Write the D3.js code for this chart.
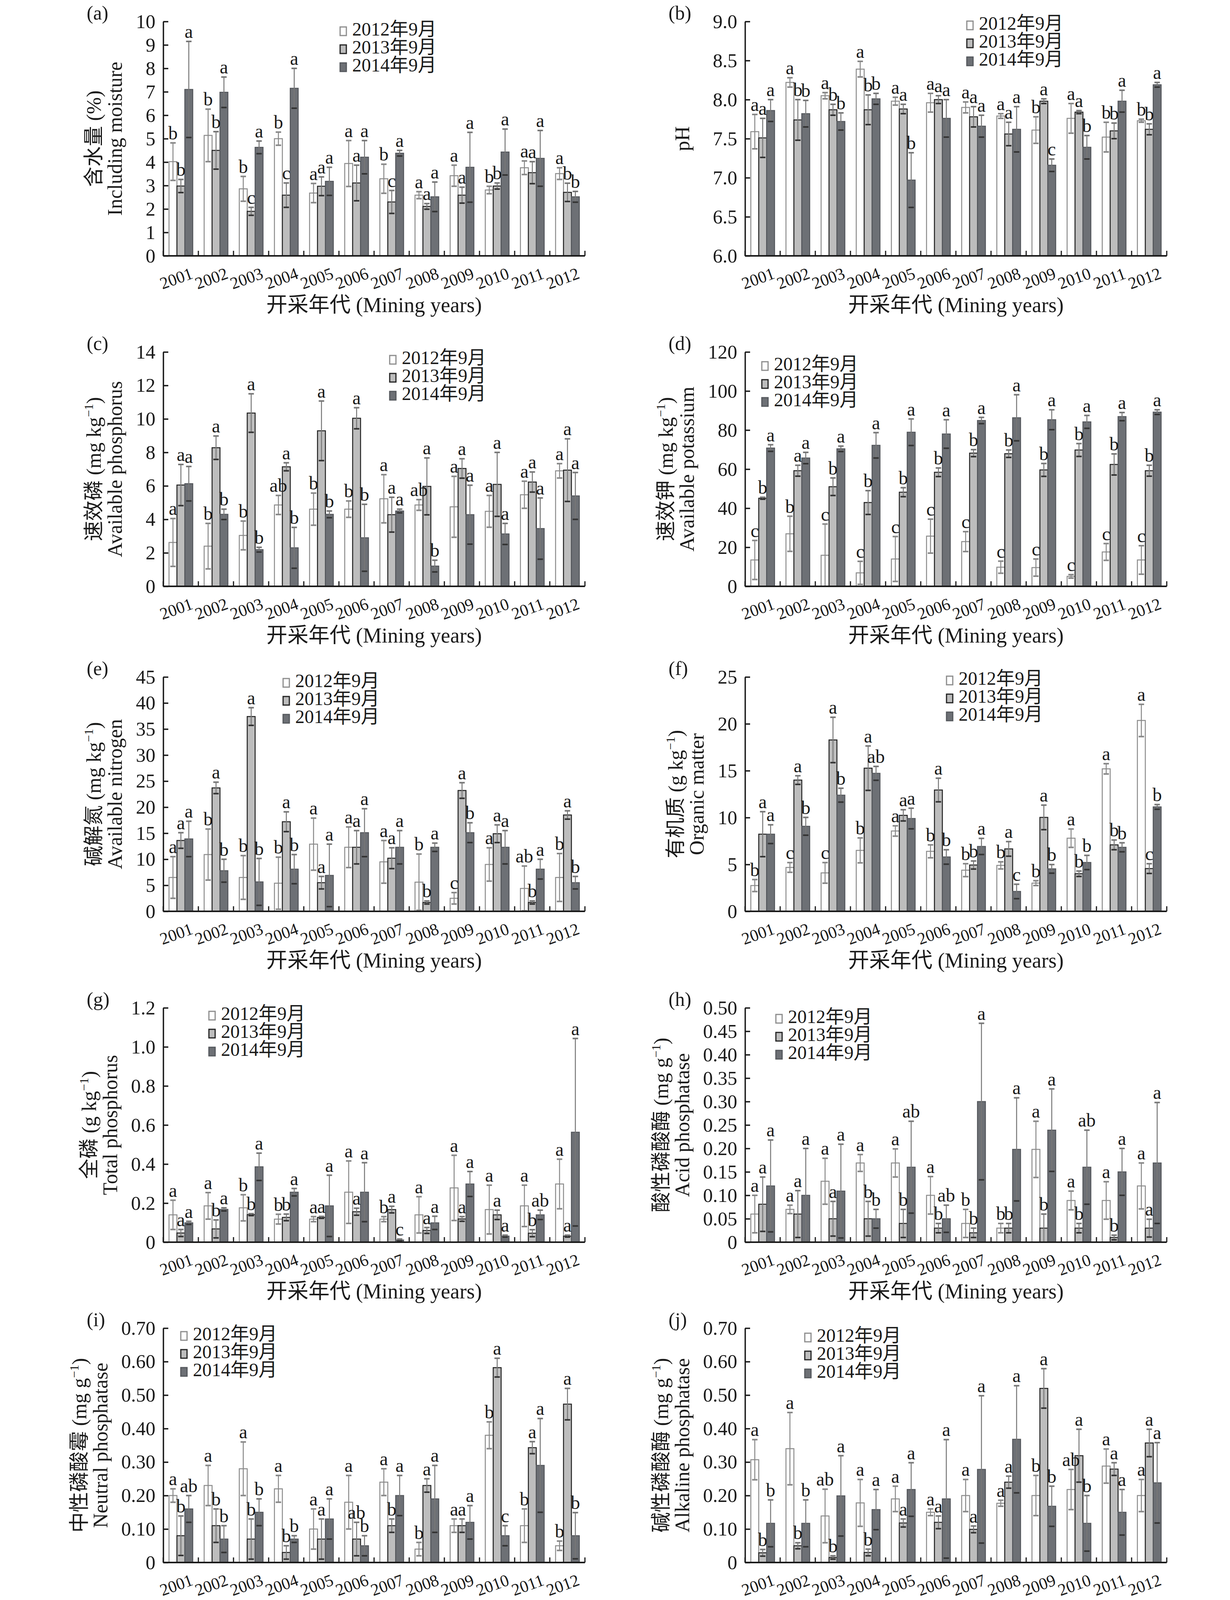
<!DOCTYPE html>
<html><head><meta charset="utf-8">
<script src="https://cdn.jsdelivr.net/npm/d3@7/dist/d3.min.js"></script>
<style>
body{margin:0;background:#fff;}
text{font-family:"Liberation Serif","Times New Roman","Noto Sans CJK SC",serif;fill:#1a1a1a;}
</style></head><body>
<svg id="chart" width="3150" height="4181"></svg>
<script>
const years = ["2001","2002","2003","2004","2005","2006","2007","2008","2009","2010","2011","2012"];
const seriesNames = ["2012年9月","2013年9月","2014年9月"];

// (a) moisture %
const moistMean = [
  [4.02,5.14,2.86,5.00,2.68,3.94,3.29,2.59,3.42,2.81,3.76,3.51],
  [2.98,4.50,1.90,2.59,2.97,3.11,2.30,2.11,2.59,2.98,3.55,2.71],
  [7.10,6.98,4.63,7.15,3.18,4.21,4.38,2.52,3.78,4.43,4.16,2.52]];
const moistErr = [
  [0.80,1.12,0.53,0.28,0.41,0.98,0.62,0.15,0.45,0.16,0.29,0.25],
  [0.28,0.80,0.17,0.52,0.40,0.76,0.49,0.12,0.34,0.13,0.47,0.39],
  [2.05,0.65,0.27,0.85,0.60,0.71,0.12,0.63,1.49,0.98,1.19,0.23]];
const moistLetters = [
  ["b","b","b","b","a","a","b","a","a","b","a","a"],
  ["b","b","c","c","a","a","c","a","a","b","a","b"],
  ["a","a","a","a","a","a","a","a","a","a","a","b"]];
const moistTicks = [0,1,2,3,4,5,6,7,8,9,10];
const moistTickLabels = ["0","1","2","3","4","5","6","7","8","9","10"];

// (b) pH
const phMean = [
  [7.59,8.22,8.05,8.39,7.98,7.96,7.90,7.79,7.61,7.76,7.52,7.73],
  [7.51,7.74,7.87,7.87,7.88,8.00,7.78,7.56,7.98,7.84,7.60,7.62],
  [7.86,7.82,7.72,8.01,6.97,7.76,7.66,7.62,7.16,7.39,7.98,8.19]];
const phErr = [
  [0.22,0.06,0.04,0.10,0.05,0.12,0.07,0.03,0.17,0.19,0.19,0.02],
  [0.25,0.26,0.07,0.19,0.06,0.05,0.13,0.15,0.03,0.02,0.10,0.07],
  [0.14,0.17,0.11,0.07,0.35,0.24,0.14,0.29,0.08,0.15,0.14,0.03]];
const phLetters = [
  ["a","a","a","a","a","a","a","a","b","a","b","b"],
  ["a","b","b","b","a","a","a","a","a","a","b","b"],
  ["a","b","b","b","b","a","a","a","c","b","a","a"]];
const phTicks = [6.0,6.5,7.0,7.5,8.0,8.5,9.0];
const phTickLabels = ["6.0","6.5","7.0","7.5","8.0","8.5","9.0"];

// (c) available phosphorus
const apMean = [
  [2.62,2.40,3.04,4.86,4.61,4.61,5.23,4.86,4.75,4.48,5.47,6.90],
  [6.05,8.28,10.35,7.14,9.29,10.04,4.28,5.97,7.04,6.09,6.23,6.94],
  [6.13,4.30,2.19,2.30,4.30,2.90,4.50,1.21,4.28,3.13,3.45,5.40]];
const apErr = [
  [1.43,1.36,0.86,0.57,0.96,0.49,1.44,0.32,1.82,0.95,0.81,0.43],
  [1.23,0.70,1.15,0.24,1.78,0.63,1.04,1.70,0.58,1.91,0.60,1.87],
  [1.03,0.31,0.14,1.22,0.20,2.00,0.11,0.35,1.76,0.63,1.83,1.40]];
const apLetters = [
  ["a","b","b","ab","b","b","a","ab","a","a","a","a"],
  ["a","a","a","a","a","a","a","a","a","a","a","a"],
  ["a","b","b","b","b","b","a","b","a","a","a","a"]];
const apTicks = [0,2,4,6,8,10,12,14];
const apTickLabels = ["0","2","4","6","8","10","12","14"];

// (d) available potassium
const akMean = [
  [13.5,26.9,15.9,6.9,14.0,25.7,22.9,9.8,9.6,5.1,17.6,13.5],
  [45.1,59.2,51.0,42.9,48.2,58.4,68.2,67.9,59.6,69.8,62.4,59.2],
  [70.8,65.7,70.4,72.2,78.9,78.0,84.9,86.3,85.3,84.2,86.9,89.2]];
const akErr = [
  [10.0,9.0,16.0,5.9,11.5,8.7,5.1,3.1,4.4,0.9,4.3,7.3],
  [0.5,2.8,4.5,6.1,2.3,2.2,1.8,1.9,3.3,3.3,5.4,2.8],
  [1.7,2.9,1.4,6.5,6.8,7.3,1.6,11.8,5.1,3.3,2.1,1.2]];
const akLetters = [
  ["c","b","c","c","c","c","c","c","c","c","c","c"],
  ["b","a","b","b","b","b","b","b","b","b","b","b"],
  ["a","a","a","a","a","a","a","a","a","a","a","a"]];
const akTicks = [0,20,40,60,80,100,120];
const akTickLabels = ["0","20","40","60","80","100","120"];

// (e) available nitrogen
const anMean = [
  [6.5,10.9,6.5,5.4,12.9,12.3,9.5,5.6,2.5,9.0,4.4,6.5],
  [13.6,23.7,37.4,17.2,5.5,12.3,10.2,1.7,23.2,14.9,1.7,18.5],
  [13.9,7.8,5.65,8.1,6.9,15.1,12.3,12.3,15.1,12.3,8.1,5.5]];
const anErr = [
  [4.0,4.9,4.2,5.0,5.0,3.9,4.1,5.4,1.1,3.2,4.3,4.6],
  [1.5,1.1,1.7,1.9,1.2,3.2,2.0,0.3,1.5,1.7,0.3,0.8],
  [3.4,2.2,4.5,2.8,6.0,4.6,3.2,0.8,1.9,3.2,1.9,1.2]];
const anLetters = [
  ["a","b","b","b","a","a","a","b","c","a","ab","b"],
  ["a","a","a","a","a","a","a","b","a","a","b","a"],
  ["a","b","b","b","a","a","a","a","b","a","a","b"]];
const anTicks = [0,5,10,15,20,25,30,35,40,45];
const anTickLabels = ["0","5","10","15","20","25","30","35","40","45"];

// (f) organic matter
const omMean = [
  [2.75,4.68,4.10,6.50,8.57,6.40,4.39,4.90,3.01,7.80,15.20,20.36],
  [8.23,14.00,18.28,15.27,10.24,12.94,4.94,6.66,10.02,4.01,7.09,4.56],
  [8.23,9.07,12.39,14.72,9.90,5.80,6.92,2.12,4.53,5.21,6.83,11.14]];
const omErr = [
  [0.64,0.52,1.10,1.33,0.55,0.69,0.69,0.38,0.26,0.98,0.55,1.72],
  [2.40,0.46,2.42,2.37,0.60,1.26,0.43,0.78,1.31,0.29,0.52,0.52],
  [1.00,0.95,0.74,0.74,1.10,0.77,0.86,0.77,0.46,0.76,0.48,0.25]];
const omLetters = [
  ["b","c","c","b","a","b","b","b","b","a","a","a"],
  ["a","a","a","a","a","a","b","a","a","b","b","c"],
  ["a","b","b","ab","a","b","a","c","b","b","b","b"]];
const omTicks = [0,5,10,15,20,25];
const omTickLabels = ["0","5","10","15","20","25"];

// (g) total phosphorus
const tpMean = [
  [0.140,0.186,0.176,0.118,0.118,0.256,0.118,0.140,0.278,0.167,0.186,0.298],
  [0.047,0.068,0.141,0.127,0.127,0.156,0.167,0.060,0.119,0.140,0.046,0.031],
  [0.099,0.168,0.386,0.256,0.186,0.256,0.011,0.099,0.298,0.031,0.140,0.563]];
const tpErr = [
  [0.075,0.068,0.067,0.025,0.013,0.160,0.013,0.093,0.167,0.125,0.106,0.127],
  [0.018,0.046,0.005,0.017,0.005,0.018,0.017,0.015,0.012,0.024,0.018,0.005],
  [0.008,0.008,0.070,0.019,0.157,0.151,0.005,0.034,0.064,0.005,0.024,0.480]];
const tpLetters = [
  ["a","a","b","b","a","a","b","a","a","a","a","a"],
  ["a","b","b","b","a","a","a","a","a","a","b","a"],
  ["a","a","a","a","a","a","c","a","a","a","ab","a"]];
const tpTicks = [0,0.2,0.4,0.6,0.8,1.0,1.2];
const tpTickLabels = ["0","0.2","0.4","0.6","0.8","1.0","1.2"];

// (h) acid phosphatase
const acpMean = [
  [0.060,0.070,0.130,0.169,0.169,0.100,0.040,0.030,0.198,0.089,0.089,0.120],
  [0.081,0.060,0.050,0.050,0.040,0.030,0.020,0.030,0.030,0.030,0.010,0.030],
  [0.120,0.100,0.109,0.050,0.160,0.050,0.300,0.198,0.239,0.160,0.150,0.169]];
const acpErr = [
  [0.040,0.009,0.049,0.018,0.030,0.040,0.030,0.010,0.060,0.020,0.040,0.049],
  [0.058,0.050,0.037,0.037,0.030,0.010,0.010,0.010,0.030,0.010,0.005,0.019],
  [0.098,0.100,0.100,0.020,0.098,0.029,0.167,0.110,0.088,0.079,0.050,0.129]];
const acpLetters = [
  ["a","a","a","a","a","a","b","b","a","a","a","a"],
  ["a","a","a","b","b","b","b","b","b","b","b","a"],
  ["a","a","a","b","ab","ab","a","a","a","ab","a","a"]];
const acpTicks = [0,0.05,0.10,0.15,0.20,0.25,0.30,0.35,0.40,0.45,0.50];
const acpTickLabels = ["0","0.05","0.10","0.15","0.20","0.25","0.30","0.35","0.40","0.45","0.50"];

// (i) neutral phosphatase
const npMean = [
  [0.20,0.23,0.28,0.22,0.10,0.18,0.24,0.04,0.11,0.38,0.11,0.05],
  [0.08,0.11,0.07,0.03,0.07,0.07,0.11,0.23,0.11,0.582,0.343,0.473],
  [0.16,0.07,0.15,0.07,0.13,0.05,0.20,0.19,0.12,0.08,0.29,0.08]];
const npErr = [
  [0.02,0.06,0.08,0.04,0.06,0.08,0.04,0.02,0.02,0.04,0.05,0.014],
  [0.059,0.05,0.06,0.02,0.06,0.05,0.02,0.02,0.02,0.028,0.018,0.047],
  [0.04,0.04,0.04,0.01,0.06,0.03,0.06,0.10,0.05,0.03,0.14,0.069]];
const npLetters = [
  ["a","a","a","a","a","a","a","b","a","b","b","b"],
  ["b","b","b","b","a","ab","b","a","a","a","a","a"],
  ["ab","b","b","b","a","b","a","a","a","c","a","b"]];
const npTicks = [0,0.10,0.20,0.30,0.40,0.50,0.60,0.70];
const npTickLabels = ["0","0.10","0.20","0.30","0.40","0.50","0.60","0.70"];

// (j) alkaline phosphatase
const alpMean = [
  [0.307,0.340,0.139,0.178,0.190,0.150,0.200,0.177,0.200,0.218,0.288,0.200],
  [0.029,0.050,0.015,0.030,0.118,0.120,0.099,0.240,0.520,0.319,0.279,0.357],
  [0.117,0.117,0.199,0.158,0.218,0.190,0.278,0.368,0.168,0.117,0.150,0.238]];
const alpErr = [
  [0.060,0.108,0.080,0.070,0.038,0.010,0.048,0.009,0.060,0.060,0.051,0.048],
  [0.010,0.009,0.005,0.010,0.012,0.019,0.010,0.018,0.059,0.079,0.019,0.041],
  [0.070,0.070,0.120,0.060,0.080,0.177,0.220,0.160,0.060,0.083,0.068,0.120]];
const alpLetters = [
  ["a","a","ab","a","a","a","a","a","b","ab","a","a"],
  ["b","b","b","b","a","a","a","a","a","a","a","a"],
  ["b","b","a","a","a","a","a","a","b","b","a","a"]];
const alpTicks = [0,0.10,0.20,0.30,0.40,0.50,0.60,0.70];
const alpTickLabels = ["0","0.10","0.20","0.30","0.40","0.50","0.60","0.70"];

const xTitle = "开采年代 (Mining years)";

const panels = [
  {label:"(a)", mean:moistMean, err:moistErr, letters:moistLetters, ticks:moistTicks, tickLabels:moistTickLabels, title:[["含水量 (%)"],["Including moisture"]], col:0,row:0, legend:[871,80]},
  {label:"(b)", mean:phMean, err:phErr, letters:phLetters, ticks:phTicks, tickLabels:phTickLabels, title:[["pH"]], col:1,row:0, legend:[2476,65]},
  {label:"(c)", mean:apMean, err:apErr, letters:apLetters, ticks:apTicks, tickLabels:apTickLabels, title:[["速效磷 (mg kg","−1",")"],["Available phosphorus"]], col:0,row:1, legend:[998,921]},
  {label:"(d)", mean:akMean, err:akErr, letters:akLetters, ticks:akTicks, tickLabels:akTickLabels, title:[["速效钾 (mg kg","−1",")"],["Available potassium"]], col:1,row:1, legend:[1951,937]},
  {label:"(e)", mean:anMean, err:anErr, letters:anLetters, ticks:anTicks, tickLabels:anTickLabels, title:[["碱解氮 (mg kg","−1",")"],["Available nitrogen"]], col:0,row:2, legend:[725,1748]},
  {label:"(f)", mean:omMean, err:omErr, letters:omLetters, ticks:omTicks, tickLabels:omTickLabels, title:[["有机质 (g kg","−1",")"],["Organic matter"]], col:1,row:2, legend:[2424,1742]},
  {label:"(g)", mean:tpMean, err:tpErr, letters:tpLetters, ticks:tpTicks, tickLabels:tpTickLabels, title:[["全磷 (g kg","−1",")"],["Total phosphorus"]], col:0,row:3, legend:[535,2600]},
  {label:"(h)", mean:acpMean, err:acpErr, letters:acpLetters, ticks:acpTicks, tickLabels:acpTickLabels, title:[["酸性磷酸酶 (mg g","−1",")"],["Acid phosphatase"]], col:1,row:3, legend:[1987,2608]},
  {label:"(i)", mean:npMean, err:npErr, letters:npLetters, ticks:npTicks, tickLabels:npTickLabels, title:[["中性磷酸霉 (mg g","−1",")"],["Neutral phosphatase"]], col:0,row:4, legend:[463,3420]},
  {label:"(j)", mean:alpMean, err:alpErr, letters:alpLetters, ticks:alpTicks, tickLabels:alpTickLabels, title:[["碱性磷酸酶 (mg g","−1",")"],["Alkaline phosphatase"]], col:1,row:4, legend:[2061,3424]}
];

const colX = [418, 1908];
const rowTop = [55, 901, 1733, 2580, 3400];
const W = 1080, H = 600;
const fills = ["#ffffff", "#bdbdbd", "#6d7075"];
const strokes = ["#8c8c8c", "#222222", "#55585d"];

const svg = d3.select("#chart");
svg.append("rect").attr("width",3150).attr("height",4181).attr("fill","#fff");

panels.forEach(p => {
  const x0 = colX[p.col], y0 = rowTop[p.row];
  const g = svg.append("g").attr("transform", `translate(${x0},${y0})`);
  const x = d3.scaleBand().domain(years).range([0, W]);
  const bw = x.bandwidth();
  const xs = d3.scaleBand().domain([0,1,2]).range([bw*0.165, bw*0.84]);
  const dom = [p.ticks[0], p.ticks[p.ticks.length-1]];
  const y = d3.scaleLinear().domain(dom).range([H, 0]);

  // bars
  p.mean.forEach((arr, s) => {
    g.append("g").selectAll("rect").data(arr).join("rect")
      .attr("x", (d,i) => x(years[i]) + xs(s))
      .attr("width", xs.bandwidth())
      .attr("y", d => y(d))
      .attr("height", d => y(dom[0]) - y(d))
      .attr("fill", fills[s]).attr("stroke", strokes[s]).attr("stroke-width", 2.5);
  });

  // error bars
  p.mean.forEach((arr, s) => {
    const eg = g.append("g").attr("stroke", s === 0 ? "#888" : "#777").attr("fill","none");
    arr.forEach((d, i) => {
      const e = p.err[s][i];
      const cx = x(years[i]) + xs(s) + xs.bandwidth()/2;
      const yt = y(d + e), yb = y(Math.max(dom[0], d - e));
      eg.append("line").attr("x1",cx).attr("x2",cx).attr("y1",yt).attr("y2",yb).attr("stroke-width",2.5);
      eg.append("line").attr("x1",cx-7).attr("x2",cx+7).attr("y1",yt).attr("y2",yt).attr("stroke-width",4);
      eg.append("line").attr("x1",cx-7).attr("x2",cx+7).attr("y1",yb).attr("y2",yb).attr("stroke-width",4)
        .attr("stroke", s === 0 ? "#888" : "#333");
    });
  });

  // significance letters
  p.mean.forEach((arr, s) => {
    g.append("g").selectAll("text").data(arr).join("text")
      .attr("x", (d,i) => x(years[i]) + xs(s) + xs.bandwidth()/2)
      .attr("y", (d,i) => y(d + p.err[s][i]) - 9)
      .attr("text-anchor","middle").attr("font-size",48)
      .text((d,i) => p.letters[s][i]);
  });

  // y axis
  const ya = g.append("g").call(
    d3.axisLeft(y).tickValues(p.ticks).tickFormat((d,i) => p.tickLabels[i])
      .tickSizeInner(-13).tickSizeOuter(0).tickPadding(20));
  ya.attr("font-family", null);
  ya.selectAll("path,line").attr("stroke","#1a1a1a").attr("stroke-width",3.5);
  ya.selectAll("text").attr("font-size",50).attr("fill","#1a1a1a");
  let maxW = 0;
  ya.selectAll("text").each(function(){ maxW = Math.max(maxW, this.getBBox().width); });

  // x axis line + boundary ticks
  g.append("line").attr("x1",0).attr("x2",W).attr("y1",H).attr("y2",H)
    .attr("stroke","#1a1a1a").attr("stroke-width",4);
  const bounds = years.map(yv => x(yv)).concat([W]);
  g.append("g").selectAll("line").data(bounds).join("line")
    .attr("x1",d=>d).attr("x2",d=>d).attr("y1",H).attr("y2",H-13)
    .attr("stroke","#1a1a1a").attr("stroke-width",3);

  // year labels
  g.append("g").selectAll("text").data(years).join("text")
    .attr("transform", d => `translate(${x(d)+bw/2-10},${H+62}) rotate(-20)`)
    .attr("text-anchor","middle").attr("dominant-baseline","middle")
    .attr("font-size",43).text(d => d);

  // x title
  g.append("text").attr("x", W/2).attr("y", H+144).attr("text-anchor","middle")
    .attr("font-size",54).text(xTitle);

  // y title
  const line2x = -20 - maxW - 36;
  const lines = p.title;
  lines.forEach((parts, li) => {
    const bx = lines.length === 1 ? line2x - 25 : (li === 0 ? line2x - 54 : line2x);
    const t = g.append("text").attr("transform", `translate(${bx},${H/2}) rotate(-90)`)
      .attr("text-anchor","middle").attr("font-size",52);
    if (parts.length === 1) { t.text(parts[0]); }
    else {
      t.append("tspan").text(parts[0]);
      t.append("tspan").attr("font-size",32).attr("dy",-20).text(parts[1]);
      t.append("tspan").attr("dy",20).text(parts[2]);
    }
  });

  // panel label
  svg.append("text").attr("x", x0 - 196).attr("y", y0 - 5).attr("font-size",50).text(p.label);

  // legend
  const [lx, ly] = p.legend;
  const lg = svg.append("g");
  seriesNames.forEach((nm, s) => {
    const cy = ly + s*46;
    lg.append("rect").attr("x", lx).attr("y", cy-11).attr("width",16).attr("height",22)
      .attr("fill", fills[s]).attr("stroke", strokes[s]).attr("stroke-width",3);
    lg.append("text").attr("x", lx+31).attr("y", cy).attr("dominant-baseline","middle")
      .attr("font-size",48).text(nm);
  });
});
</script>
</body></html>
